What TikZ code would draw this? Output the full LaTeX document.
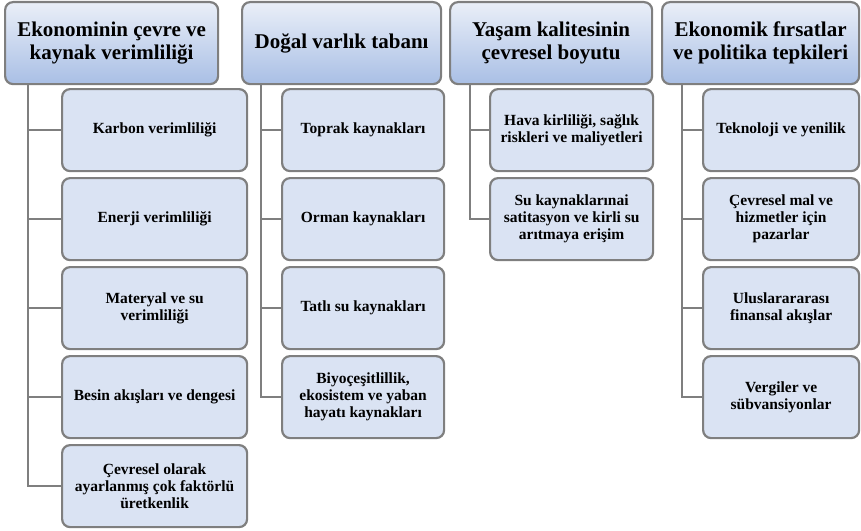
\documentclass[tikz,border=0pt]{standalone}
\usepackage{fontspec}
\newfontfamily\boxfont{Liberation Serif}
\usetikzlibrary{positioning}
\definecolor{headtop}{HTML}{EAEFF8}
\definecolor{headbottom}{HTML}{A9BFE5}
\definecolor{subfill}{HTML}{DAE3F3}
\definecolor{frame}{HTML}{7F7F7F}

\begin{document}
\begin{tikzpicture}[
    x=1pt, y=1pt,
    node distance=4.8pt,
    head/.style={draw=frame, line width=2.2pt, rounded corners=8pt,
                 top color=headtop, bottom color=headbottom,
                 minimum width=#1, minimum height=82pt, inner sep=2pt,
                 align=center, anchor=north west,
                 font=\boxfont\bfseries\fontsize{21}{23}\selectfont},
    sub/.style={draw=frame, line width=2.2pt, rounded corners=8pt,
                fill=subfill, minimum width=#1, minimum height=82pt, inner sep=2pt,
                align=center, font=\boxfont\bfseries\fontsize{15.5}{17}\selectfont},
    link/.style={draw=frame, line width=2.5pt},
]
\useasboundingbox (0,0) rectangle (861,-530);

% column 1
\node[head=213pt] (h1) at (4,-1) {Ekonominin çevre ve\\kaynak verimliliği};
\node[sub=185pt, anchor=north west] (c1a) at (61,-88) {Karbon verimliliği};
\node[sub=185pt, below=of c1a] (c1b) {Enerji verimliliği};
\node[sub=185pt, below=of c1b] (c1c) {Materyal ve su\\verimliliği};
\node[sub=185pt, below=of c1c] (c1d) {Besin akışları ve dengesi};
\node[sub=185pt, below=of c1d] (c1e) {Çevresel olarak\\ayarlanmış çok faktörlü\\üretkenlik};

\coordinate (t1) at ([xshift=24pt]h1.south west);
\draw[link] (t1) |- (c1a.west);
\draw[link] (t1) |- (c1b.west);
\draw[link] (t1) |- (c1c.west);
\draw[link] (t1) |- (c1d.west);
\draw[link] (t1) |- (c1e.west);

% column 2
\node[head=199pt] (h2) at (241,-1) {Doğal varlık tabanı};
\node[sub=162pt, anchor=north west] (c2a) at (281,-88) {Toprak kaynakları};
\node[sub=162pt, below=of c2a] (c2b) {Orman kaynakları};
\node[sub=162pt, below=of c2b] (c2c) {Tatlı su kaynakları};
\node[sub=162pt, below=of c2c] (c2d) {Biyoçeşitlillik,\\ekosistem ve yaban\\hayatı kaynakları};

\coordinate (t2) at ([xshift=20pt]h2.south west);
\draw[link] (t2) |- (c2a.west);
\draw[link] (t2) |- (c2b.west);
\draw[link] (t2) |- (c2c.west);
\draw[link] (t2) |- (c2d.west);

% column 3
\node[head=202pt] (h3) at (449,-1) {Yaşam kalitesinin\\çevresel boyutu};
\node[sub=163pt, anchor=north west] (c3a) at (489,-88) {Hava kirliliği, sağlık\\riskleri ve maliyetleri};
\node[sub=163pt, below=of c3a] (c3b) {Su kaynaklarınai\\satitasyon ve kirli su\\arıtmaya erişim};

\coordinate (t3) at ([xshift=21pt]h3.south west);
\draw[link] (t3) |- (c3a.west);
\draw[link] (t3) |- (c3b.west);

% column 4
\node[head=197pt] (h4) at (661,-1) {Ekonomik fırsatlar\\ve politika tepkileri};
\node[sub=156pt, anchor=north west] (c4a) at (702,-88) {Teknoloji ve yenilik};
\node[sub=156pt, below=of c4a] (c4b) {Çevresel mal ve\\hizmetler için\\pazarlar};
\node[sub=156pt, below=of c4b] (c4c) {Uluslarararası\\finansal akışlar};
\node[sub=156pt, below=of c4c] (c4d) {Vergiler ve\\sübvansiyonlar};

\coordinate (t4) at ([xshift=21pt]h4.south west);
\draw[link] (t4) |- (c4a.west);
\draw[link] (t4) |- (c4b.west);
\draw[link] (t4) |- (c4c.west);
\draw[link] (t4) |- (c4d.west);

\end{tikzpicture}
\end{document}
